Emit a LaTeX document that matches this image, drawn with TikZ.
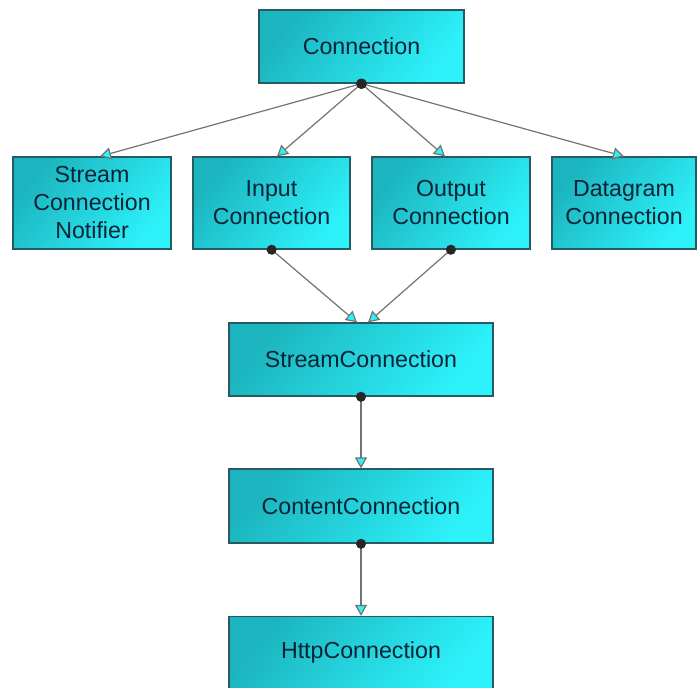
\documentclass[tikz,border=0pt]{standalone}
\usepackage{fontspec}
\setmainfont{Liberation Sans}
\usetikzlibrary{arrows.meta}

\definecolor{boxdark}{RGB}{28,180,190}
\definecolor{boxlight}{RGB}{45,242,250}
\definecolor{boxline}{RGB}{40,90,100}
\definecolor{boxtext}{RGB}{10,35,55}
\definecolor{wire}{RGB}{115,115,115}

\tikzset{
  classbox/.style={draw=boxline, line width=0.6pt, top color=boxdark, bottom color=boxlight,
    shading angle=50, text=boxtext, align=center, inner sep=0pt,
    font=\fontsize{11.6}{14}\selectfont},
  inherit/.style={draw=wire, line width=0.6pt, shorten <=-2.4pt,
    {Circle[length=5pt, color=black!85]}-{Triangle[length=5.5pt, width=6pt, fill=boxlight]}}
}

\begin{document}
\begin{tikzpicture}[x=0.5pt, y=-0.5pt]
    \useasboundingbox (0,0) rectangle (697,688);
    \clip (0,0) rectangle (697,688);

    \node[classbox, minimum width=102.5pt, minimum height=36.5pt] (conn) at (361.5,46.5) {Connection};

    \node[classbox, minimum width=79pt, minimum height=46pt] (notifier) at (92,203) {Stream\\Connection\\Notifier};
    \node[classbox, minimum width=78.5pt, minimum height=46pt] (input) at (271.5,203) {Input\\Connection};
    \node[classbox, minimum width=79pt, minimum height=46pt] (output) at (451,203) {Output\\Connection};
    \node[classbox, minimum width=72pt, minimum height=46pt] (dgram) at (624,203) {Datagram\\Connection};

    \node[classbox, minimum width=132pt, minimum height=36.5pt] (stream) at (361,359.5) {StreamConnection};
    \node[classbox, minimum width=132pt, minimum height=37pt] (content) at (361,506) {ContentConnection};
    \node[classbox, minimum width=132pt, minimum height=36.5pt] (http) at (361,653) {HttpConnection};

    % inheritance lines
    \draw[inherit] (conn.south) -- ([xshift=4pt]notifier.north);
    \draw[inherit] (conn.south) -- ([xshift=2.75pt]input.north);
    \draw[inherit] (conn.south) -- ([xshift=-3pt]output.north);
    \draw[inherit] (conn.south) -- (dgram.north);

    \draw[inherit] (input.south) -- ([xshift=-2pt]stream.north);
    \draw[inherit] (output.south) -- ([xshift=3.5pt]stream.north);

    \draw[inherit] (stream.south) -- (content.north);
    \draw[inherit] (content.south) -- (http.north);
\end{tikzpicture}
\end{document}
